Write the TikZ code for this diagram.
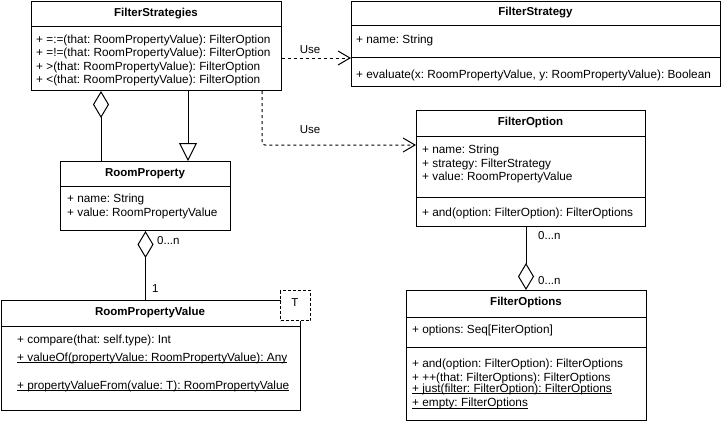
\documentclass[tikz,border=0pt]{standalone}
\usepackage{fontspec}
\setmainfont{Liberation Sans}
\usetikzlibrary{arrows.meta}
\newcommand{\ulx}[1]{\underline{\smash{#1}}}
\tikzset{
  box/.style={draw, line width=1pt, fill=white, anchor=north west, inner sep=0pt},
  sep/.style={line width=1pt},
  title/.style={font=\fontsize{11.5}{13}\selectfont\bfseries\frenchspacing, inner sep=0pt},
  member/.style={font=\fontsize{11.8}{13.5}\selectfont\frenchspacing, anchor=west, inner sep=0pt, align=left},
  lbl/.style={font=\fontsize{11.5}{13}\selectfont, inner sep=0pt},
  conn/.style={line width=1pt},
  agg/.style={conn, {Diamond[open, length=27pt, width=16pt]}-},
  aggend/.style={conn, -{Diamond[open, length=27pt, width=16pt]}},
  inh/.style={conn, -{Triangle[open, length=18pt, width=18pt]}},
  use/.style={conn, dashed, dash pattern=on 3pt off 3pt, -{Straight Barb[length=12pt, width=14pt]}},
}
\begin{document}
\begin{tikzpicture}[x=1pt, y=-1pt]
\useasboundingbox (0,0) rectangle (721,424);

% FilterStrategies
\node[box, minimum width=250pt, minimum height=89pt] (fs) at (31,1) {};
\draw[sep] (31,26) -- (281,26);
\node[title] (fst) at (156,13.5) {FilterStrategies};
\node[member] (fsm) at (36,60.5) {+ =:=(that: RoomPropertyValue): FilterOption\\+ =!=(that: RoomPropertyValue): FilterOption\\+ >(that: RoomPropertyValue): FilterOption\\+ <(that: RoomPropertyValue): FilterOption};

% FilterStrategy
\node[box, minimum width=369pt, minimum height=85pt] (fy) at (351,1) {};
\draw[sep] (351,25) -- (720,25);
\draw[sep] (351,57) -- (720,57);
\node[title] (fyt) at (535.5,13) {FilterStrategy};
\node[member] (fya) at (356,40) {+ name: String};
\node[member] (fyo) at (356,75) {+ evaluate(x: RoomPropertyValue, y: RoomPropertyValue): Boolean};

% FilterOption
\node[box, minimum width=229pt, minimum height=116pt] (fo) at (416,110) {};
\draw[sep] (416,136) -- (645,136);
\draw[sep] (416,197) -- (645,197);
\node[title] (fot) at (530.5,123) {FilterOption};
\node[member] (foa) at (422,164) {+ name: String\\+ strategy: FilterStrategy\\+ value: RoomPropertyValue};
\node[member] (foo) at (422,213) {+ and(option: FilterOption): FilterOptions};

% RoomProperty
\node[box, minimum width=170pt, minimum height=69pt] (rp) at (60,161) {};
\draw[sep] (60,186) -- (230,186);
\node[title] (rpt) at (145,174) {RoomProperty};
\node[member] (rpa) at (67,206.5) {+ name: String\\+ value: RoomPropertyValue};

% RoomPropertyValue
\node[box, minimum width=299.5pt, minimum height=110pt] (rpv) at (0.5,300) {};
\draw[sep] (0.5,326) -- (300,326);
\node[title] (rpvt) at (150,313) {RoomPropertyValue};
\node[member] (rpv1) at (17,340) {+ compare(that: self.type): Int};
\node[member] (rpv2) at (17,362) {\ulx{+ valueOf(propertyValue: RoomPropertyValue): Any}};
\node[member] (rpv3) at (17,390) {\ulx{+ propertyValueFrom(value: T): RoomPropertyValue}};
\node[box, dashed, dash pattern=on 3pt off 2pt, minimum width=30pt, minimum height=30pt] (tpl) at (280,290) {};
\node[lbl] (tplt) at (295,303) {T};

% FilterOptions
\node[box, minimum width=240pt, minimum height=130pt] (fos) at (406,290) {};
\draw[sep] (406,317) -- (646,317);
\draw[sep] (406,347) -- (646,347);
\node[title] (fost) at (526,303) {FilterOptions};
\node[member] (fosa) at (412,330) {+ options: Seq[FiterOption]};
\node[member] (fos1) at (412,364) {+ and(option: FilterOption): FilterOptions};
\node[member] (fos2) at (412,378) {+ ++(that: FilterOptions): FilterOptions};
\node[member] (fos3) at (412,393) {\ulx{+ just(filter: FilterOption): FilterOptions}};
\node[member] (fos4) at (412,407.5) {\ulx{+ empty: FilterOptions}};

% connectors
\draw[agg] (fs.south -| 101,0) -- (rp.north -| 101,0);
\draw[inh] (fs.south -| 188,0) -- (rp.north -| 188,0);
\draw[use] (fs.east |- 0,58) -- (fy.west |- 0,58);
\node[lbl] (use1) at (310,50) {Use};
\draw[use, rounded corners=3pt] (fs.south -| 262,0) -- (262,145) -- (fo.west |- 0,145);
\node[lbl] (use2) at (310,130) {Use};
\draw[agg] (rp.south -| 145.5,0) -- (rpv.north -| 145.5,0);
\node[lbl, anchor=west] (m1) at (157,241) {0...n};
\node[lbl, anchor=west] (m2) at (152,289) {1};
\draw[aggend] (fo.south -| 526,0) -- (fos.north -| 526,0);
\node[lbl, anchor=west] (m3) at (538,236) {0...n};
\node[lbl, anchor=west] (m4) at (538,281) {0...n};
\end{tikzpicture}
\end{document}
